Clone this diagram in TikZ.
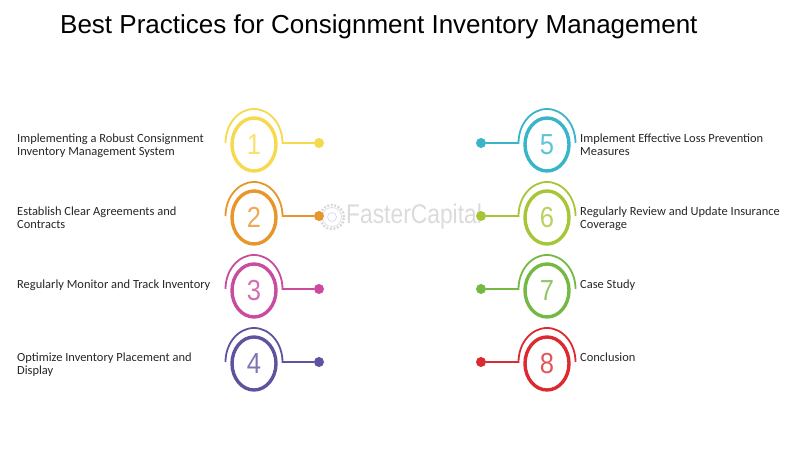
\documentclass[tikz,border=0pt]{standalone}
\usepackage{fontspec}
\setmainfont{Carlito}
\newfontfamily\arialfont{Liberation Sans}
\usetikzlibrary{shapes.geometric}
\definecolor{ringyellow}{HTML}{F6D94E}
\definecolor{ringorange}{HTML}{E8962C}
\definecolor{ringpink}{HTML}{C94C9E}
\definecolor{ringpurple}{HTML}{5F539F}
\definecolor{ringteal}{HTML}{38B5C9}
\definecolor{ringlime}{HTML}{A6C637}
\definecolor{ringgreen}{HTML}{75B843}
\definecolor{ringred}{HTML}{DB2A30}
\definecolor{labeltext}{HTML}{262626}
\newcommand{\ringdigit}[1]{\scalebox{0.88}[1]{#1}}
\tikzset{
  ringnode/.style={ellipse,draw=#1,text=#1!80!white,line width=3.4pt,minimum width=44pt,minimum height=53pt,inner sep=0pt,font=\arialfont\fontsize{29}{29}\selectfont},
  dotnode/.style={circle,fill=#1,minimum size=10pt,inner sep=0pt},
  linkline/.style={draw=#1,line width=1.8pt},
  itemtext/.style={anchor=north west,align=left,inner sep=0pt,text=labeltext,font=\fontsize{12.45}{13}\selectfont},
}
\begin{document}
\begin{tikzpicture}[x=1pt,y=1pt]
\useasboundingbox (0,0) rectangle (800,449);
\node[anchor=base west,inner sep=0pt,font=\arialfont\fontsize{26}{30}\selectfont] (title) at (60,415.5) {Best Practices for Consignment Inventory Management};
% faint mark behind the second row
\node[circle,draw=gray!30,line width=2.5pt,dash pattern=on 2pt off 1.6pt,minimum size=24pt,inner sep=0pt] (gearteeth) at (332,232) {};
\node[circle,draw=gray!30,line width=0.6pt,minimum size=19pt,inner sep=0pt] (gearbody) at (332,232) {};
\node[circle,draw=blue!20,line width=0.5pt,minimum size=9pt,inner sep=0pt] (gearhub) at (332,232) {};
\node[anchor=west,inner sep=0pt,text=gray!28,font=\arialfont\fontsize{27}{28}\selectfont] (mark) at (346,232) {\scalebox{0.845}[1]{FasterCapital}};
% left rows
\node[ringnode=ringyellow] (ring1) at (254,304.5) {\ringdigit{1}};
\node[dotnode=ringyellow] (dot1) at (319,306) {};
\coordinate (knee1) at (282.5,306);
\draw[linkline=ringyellow] (dot1) -- (knee1) arc[start angle=0,end angle=180,x radius=28.5,y radius=34];
\node[itemtext] (text1) at (17,315.5) {Implementing a Robust Consignment\\Inventory Management System};
\node[ringnode=ringorange] (ring2) at (254,231.5) {\ringdigit{2}};
\node[dotnode=ringorange] (dot2) at (319,233) {};
\coordinate (knee2) at (282.5,233);
\draw[linkline=ringorange] (dot2) -- (knee2) arc[start angle=0,end angle=180,x radius=28.5,y radius=34];
\node[itemtext] (text2) at (17,242.5) {Establish Clear Agreements and\\Contracts};
\node[ringnode=ringpink] (ring3) at (254,158.5) {\ringdigit{3}};
\node[dotnode=ringpink] (dot3) at (319,160) {};
\coordinate (knee3) at (282.5,160);
\draw[linkline=ringpink] (dot3) -- (knee3) arc[start angle=0,end angle=180,x radius=28.5,y radius=34];
\node[itemtext] (text3) at (17,169.5) {Regularly Monitor and Track Inventory};
\node[ringnode=ringpurple] (ring4) at (254,85.5) {\ringdigit{4}};
\node[dotnode=ringpurple] (dot4) at (319,87) {};
\coordinate (knee4) at (282.5,87);
\draw[linkline=ringpurple] (dot4) -- (knee4) arc[start angle=0,end angle=180,x radius=28.5,y radius=34];
\node[itemtext] (text4) at (17,96.5) {Optimize Inventory Placement and\\Display};
% right rows
\node[ringnode=ringteal] (ring5) at (547,304.5) {\ringdigit{5}};
\node[dotnode=ringteal] (dot5) at (481,306) {};
\coordinate (knee5) at (518.5,306);
\draw[linkline=ringteal] (dot5) -- (knee5) arc[start angle=180,end angle=0,x radius=28.5,y radius=34];
\node[itemtext] (text5) at (580,315.5) {Implement Effective Loss Prevention\\Measures};
\node[ringnode=ringlime] (ring6) at (547,231.5) {\ringdigit{6}};
\node[dotnode=ringlime] (dot6) at (481,233) {};
\coordinate (knee6) at (518.5,233);
\draw[linkline=ringlime] (dot6) -- (knee6) arc[start angle=180,end angle=0,x radius=28.5,y radius=34];
\node[itemtext] (text6) at (580,242.5) {Regularly Review and Update Insurance\\Coverage};
\node[ringnode=ringgreen] (ring7) at (547,158.5) {\ringdigit{7}};
\node[dotnode=ringgreen] (dot7) at (481,160) {};
\coordinate (knee7) at (518.5,160);
\draw[linkline=ringgreen] (dot7) -- (knee7) arc[start angle=180,end angle=0,x radius=28.5,y radius=34];
\node[itemtext] (text7) at (580,169.5) {Case Study};
\node[ringnode=ringred] (ring8) at (547,85.5) {\ringdigit{8}};
\node[dotnode=ringred] (dot8) at (481,87) {};
\coordinate (knee8) at (518.5,87);
\draw[linkline=ringred] (dot8) -- (knee8) arc[start angle=180,end angle=0,x radius=28.5,y radius=34];
\node[itemtext] (text8) at (580,96.5) {Conclusion};
\end{tikzpicture}
\end{document}
